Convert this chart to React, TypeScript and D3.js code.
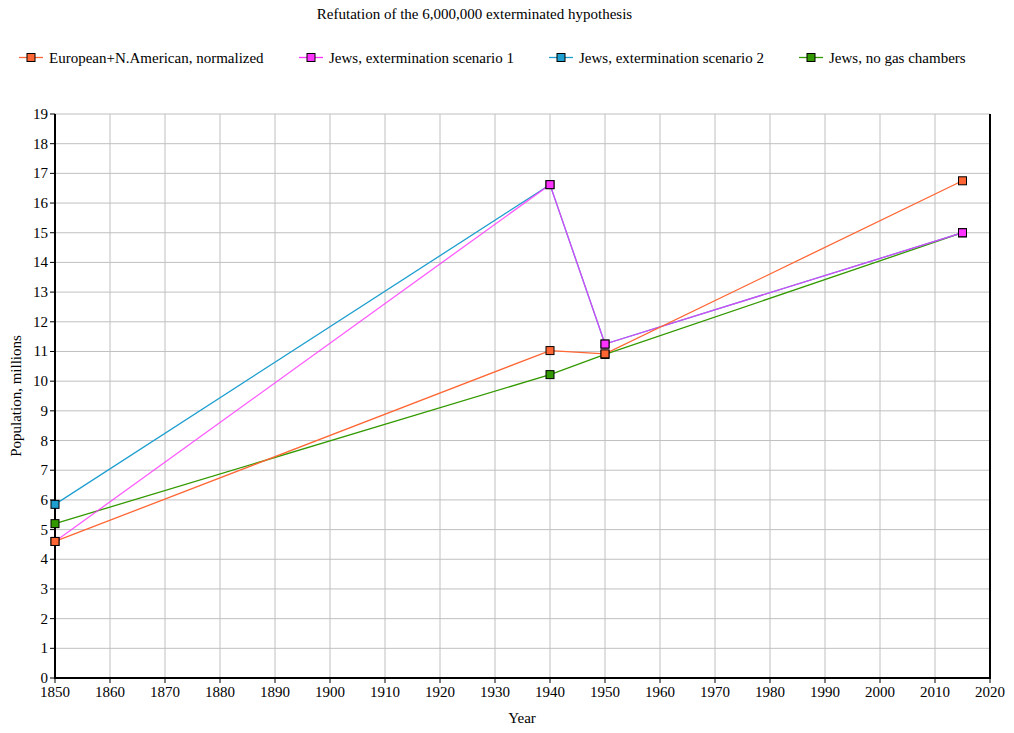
import React from "react";
import * as d3 from "d3";

const title = "Refutation of the 6,000,000 exterminated hypothesis";
const years = [1850, 1940, 1950, 2015];
const seriesNames = [
  "European+N.American, normalized",
  "Jews, extermination scenario 1",
  "Jews, extermination scenario 2",
  "Jews, no gas chambers",
];
const seriesColors = ["#ff6633", "#ff33ff", "#1f9fd0", "#339900"];
const europeanValues = [4.6, 11.03, 10.92, 16.75];
const scenario1Values = [4.6, 16.62, 11.25, 15.0];
const scenario2Values = [5.85, 16.62, 11.25, 15.0];
const noGasValues = [5.2, 10.22, 10.9, 15.0];
const xTicks = d3.range(1850, 2021, 10);
const yTicks = d3.range(0, 20, 1);
const legendX = [19, 299, 549, 799];

export default function App() {
  const W = 1014, H = 733;
  const left = 55, right = 990, top = 114, bottom = 678;
  const x = d3.scaleLinear().domain([1850, 2020]).range([left, right]);
  const y = d3.scaleLinear().domain([0, 19]).range([bottom, top]);
  const allSeries = [europeanValues, scenario1Values, scenario2Values, noGasValues];
  const line = d3.line<number>().x((_, i) => x(years[i])).y((v) => y(v));
  const order = [3, 2, 1, 0];
  const font = "'Liberation Serif', 'Times New Roman', serif";
  const fs = 15;
  return (
    <svg width={W} height={H} style={{ position: "absolute", left: 0, top: 0, background: "#fff" }} fontFamily={font}>
      <rect x={0} y={0} width={W} height={H} fill="#fff" />
      <text x={474.5} y={19} textAnchor="middle" fontSize={fs} fill="#000">{title}</text>
      {seriesNames.map((n, i) => (
        <g key={n} transform={`translate(${legendX[i]},57.5)`}>
          <line x1={0} x2={24} y1={0} y2={0} stroke={seriesColors[i]} strokeWidth={1.3} />
          <rect x={8} y={-4} width={8} height={8} fill={seriesColors[i]} stroke="#000" strokeWidth={1} />
          <text x={30} y={5} fontSize={fs} fill="#000">{n}</text>
        </g>
      ))}
      {xTicks.map((t) => (
        <line key={"gx" + t} x1={x(t)} x2={x(t)} y1={top} y2={bottom} stroke="#c0c0c0" strokeWidth={1} />
      ))}
      {yTicks.map((t) => (
        <line key={"gy" + t} x1={left} x2={right} y1={y(t)} y2={y(t)} stroke="#c0c0c0" strokeWidth={1} />
      ))}
      <line x1={left} x2={left} y1={top} y2={bottom + 1} stroke="#000" strokeWidth={2} />
      <line x1={left - 1} x2={right + 1} y1={bottom} y2={bottom} stroke="#000" strokeWidth={2} />
      <line x1={right} x2={right} y1={top} y2={bottom} stroke="#000" strokeWidth={2} />
      {yTicks.map((t) => (
        <g key={"ty" + t}>
          <line x1={left - 5} x2={left} y1={y(t)} y2={y(t)} stroke="#000" strokeWidth={1} />
          <text x={left - 7} y={y(t) + 5} textAnchor="end" fontSize={fs} fill="#000">{t}</text>
        </g>
      ))}
      {xTicks.map((t) => (
        <g key={"tx" + t}>
          <line x1={x(t)} x2={x(t)} y1={bottom} y2={bottom + 5} stroke="#000" strokeWidth={1} />
          <text x={x(t)} y={bottom + 19} textAnchor="middle" fontSize={fs} fill="#000">{t}</text>
        </g>
      ))}
      <text x={522} y={723} textAnchor="middle" fontSize={fs} fill="#000">Year</text>
      <text transform={`translate(21,396) rotate(-90)`} textAnchor="middle" fontSize={fs} fill="#000">Population, millions</text>
      {order.map((i) => (
        <path key={"l" + i} d={line(allSeries[i]) || ""} fill="none" stroke={seriesColors[i]} strokeWidth={1.3} strokeOpacity={i === 1 ? 0.8 : 1} />
      ))}
      {order.map((i) => (
        <g key={"m" + i}>
          {allSeries[i].map((v, j) => (
            <rect key={j} x={x(years[j]) - 4} y={y(v) - 4} width={8} height={8} fill={seriesColors[i]} stroke="#000" strokeWidth={1} />
          ))}
        </g>
      ))}
    </svg>
  );
}
